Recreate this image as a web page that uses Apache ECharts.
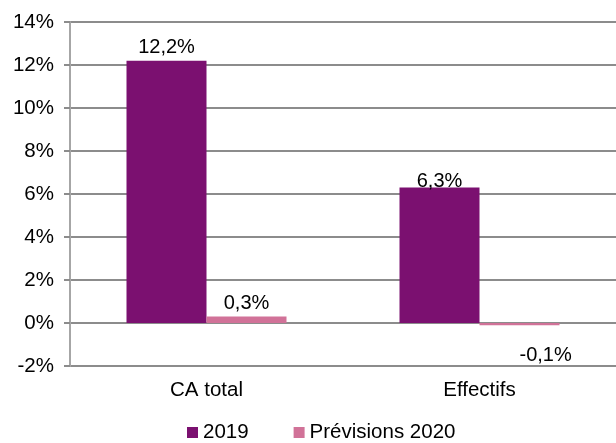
<!DOCTYPE html>
<html>
<head>
<meta charset="utf-8">
<script src="https://cdn.jsdelivr.net/npm/echarts@6/dist/echarts.min.js"></script>
<style>
  html, body { margin: 0; padding: 0; background: #fff; }
  #myCharts { width: 616px; height: 443px; }
</style>
</head>
<body>
<div id="myCharts"></div>
<script>
// données
const categories = ["CA total", "Effectifs"];
const seriesNames = ["2019", "Prévisions 2020"];
const values2019 = [12.2, 6.3];
const values2020 = [0.3, -0.1];

const fmt = v => String(v).replace(".", ",") + "%";
const FONT = "Liberation Sans, Arial";

const myCharts = echarts.init(document.getElementById("myCharts"));
const labelStyle = {
  show: true,
  position: "top",
  color: "#000",
  fontFamily: FONT,
  fontSize: 20,
  distance: 3,
  formatter: p => fmt(p.value)
};

let options = {
  animation: false,
  grid: {
    left: 70,
    right: 0,
    top: 22,
    bottom: 77
  },
  legend: {
    top: 422,
    left: 187,
    padding: 0,
    itemWidth: 11,
    itemHeight: 11,
    itemGap: 45,
    icon: "rect",
    textStyle: {
      color: "#000",
      fontFamily: FONT,
      fontSize: 20.5
    },
    data: seriesNames
  },
  xAxis: {
    type: "category",
    data: categories,
    axisLine: { show: false },
    axisTick: { show: false },
    axisLabel: {
      color: "#000",
      fontFamily: FONT,
      fontSize: 20.5,
      margin: 14
    }
  },
  yAxis: {
    type: "value",
    min: -2,
    max: 14,
    interval: 2,
    axisLine: {
      show: true,
      lineStyle: { color: "#a6a6a6", width: 2 }
    },
    axisTick: {
      show: true,
      length: 6,
      lineStyle: { color: "#8c8c8c", width: 2 }
    },
    axisLabel: {
      color: "#000",
      fontFamily: FONT,
      fontSize: 20.5,
      margin: 16,
      formatter: v => v + "%"
    },
    splitLine: {
      show: true,
      lineStyle: { color: "#8c8c8c", width: 2 }
    }
  },
  series: [
    {
      name: seriesNames[0],
      type: "bar",
      data: values2019,
      barWidth: 80,
      barGap: "0%",
      itemStyle: { color: "#7b1070" },
      label: labelStyle,
      labelLayout: function (params) {
        // l'étiquette de 6,3% chevauche le haut de la barre
        if (params.dataIndex === 1) {
          return { dy: 7 };
        }
      }
    },
    {
      name: seriesNames[1],
      type: "bar",
      data: values2020,
      barWidth: 80,
      itemStyle: { color: "#d17298" },
      label: labelStyle,
      labelLayout: function (params) {
        // étiquette sous la barre pour les valeurs négatives
        if (values2020[params.dataIndex] < 0) {
          return { y: params.rect.y + params.rect.height + 20 };
        }
      }
    }
  ]
};
myCharts.setOption(options);
</script>
</body>
</html>
